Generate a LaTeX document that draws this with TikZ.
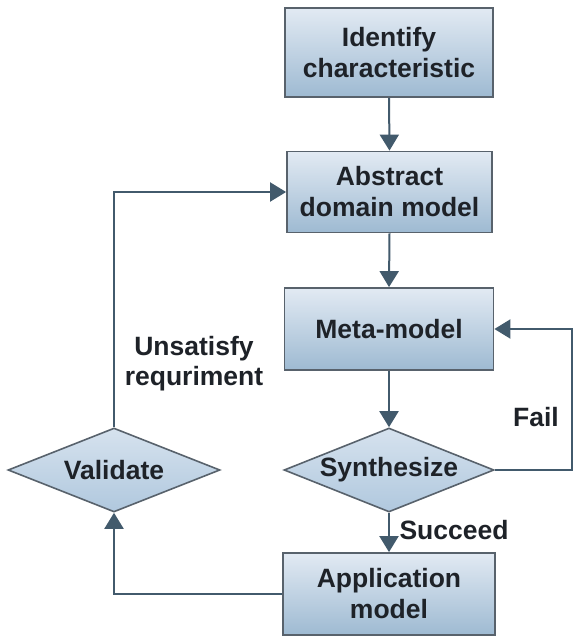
\documentclass[tikz,border=0pt]{standalone}
\usepackage{fontspec}
\setmainfont{Liberation Sans}
\usetikzlibrary{shapes.geometric,arrows.meta}
\definecolor{linec}{RGB}{66,90,108}
\definecolor{borderc}{RGB}{88,98,108}
\definecolor{txtc}{RGB}{30,34,40}
\definecolor{topc}{RGB}{226,234,243}
\definecolor{botc}{RGB}{158,186,210}
\definecolor{dtopc}{RGB}{214,226,238}
\definecolor{dbotc}{RGB}{176,200,222}
\tikzset{
  lbl/.style={font=\fontsize{26.5}{31}\selectfont\bfseries, text=txtc, align=center},
  procbox/.style={lbl, draw=borderc, line width=1.8pt, top color=topc, bottom color=botc,
     minimum width=208pt, minimum height=82pt, inner sep=0pt},
  decide/.style={lbl, shape=diamond, shape aspect=2.5, draw=borderc, line width=1.6pt,
     top color=dtopc, bottom color=dbotc, minimum width=210pt, minimum height=84pt, inner sep=0pt},
  conn/.style={draw=linec, line width=2pt},
  arr/.style={conn, -{Triangle[width=19pt,length=16pt]}}
}
\begin{document}
\begin{tikzpicture}[x=1pt,y=-1pt]
\useasboundingbox[fill=white] (0,0) rectangle (573,637);
\node[procbox, minimum height=89pt] (id) at (389,52.5) {Identify\\characteristic};
\node[procbox, minimum width=205pt, minimum height=81pt] (abs) at (389.5,192) {Abstract\\domain model};
\node[procbox, minimum width=209pt] (meta) at (389,329) {Meta-model};
\node[decide] (syn) at (389,470) {Synthesize};
\node[decide, minimum width=212pt] (val) at (114,470) {Validate};
\node[procbox, minimum width=212pt, minimum height=82pt] (app) at (389,594) {Application\\model};
\coordinate (fr) at (571.5,470);
\node[lbl, anchor=base] (unsat) at (194,355) {Unsatisfy};
\node[lbl, anchor=base] (unsat2) at (194,385) {requriment};
\node[lbl, anchor=base] (fail) at (536,426) {Fail};
\node[lbl, anchor=base] (succ) at (454,539) {Succeed};
\draw[arr] (id.south) -- (abs.north);
\draw[arr] (abs.south) -- (meta.north);
\draw[arr] (meta.south) -- (syn.north);
\draw[arr] (syn.south) -- (app.north);
\draw[arr] (app.west) -| (val.south);
\draw[arr] (val.north) |- (abs.west);
\draw[arr] (syn.east) -- (fr) |- (meta.east);
\end{tikzpicture}
\end{document}
